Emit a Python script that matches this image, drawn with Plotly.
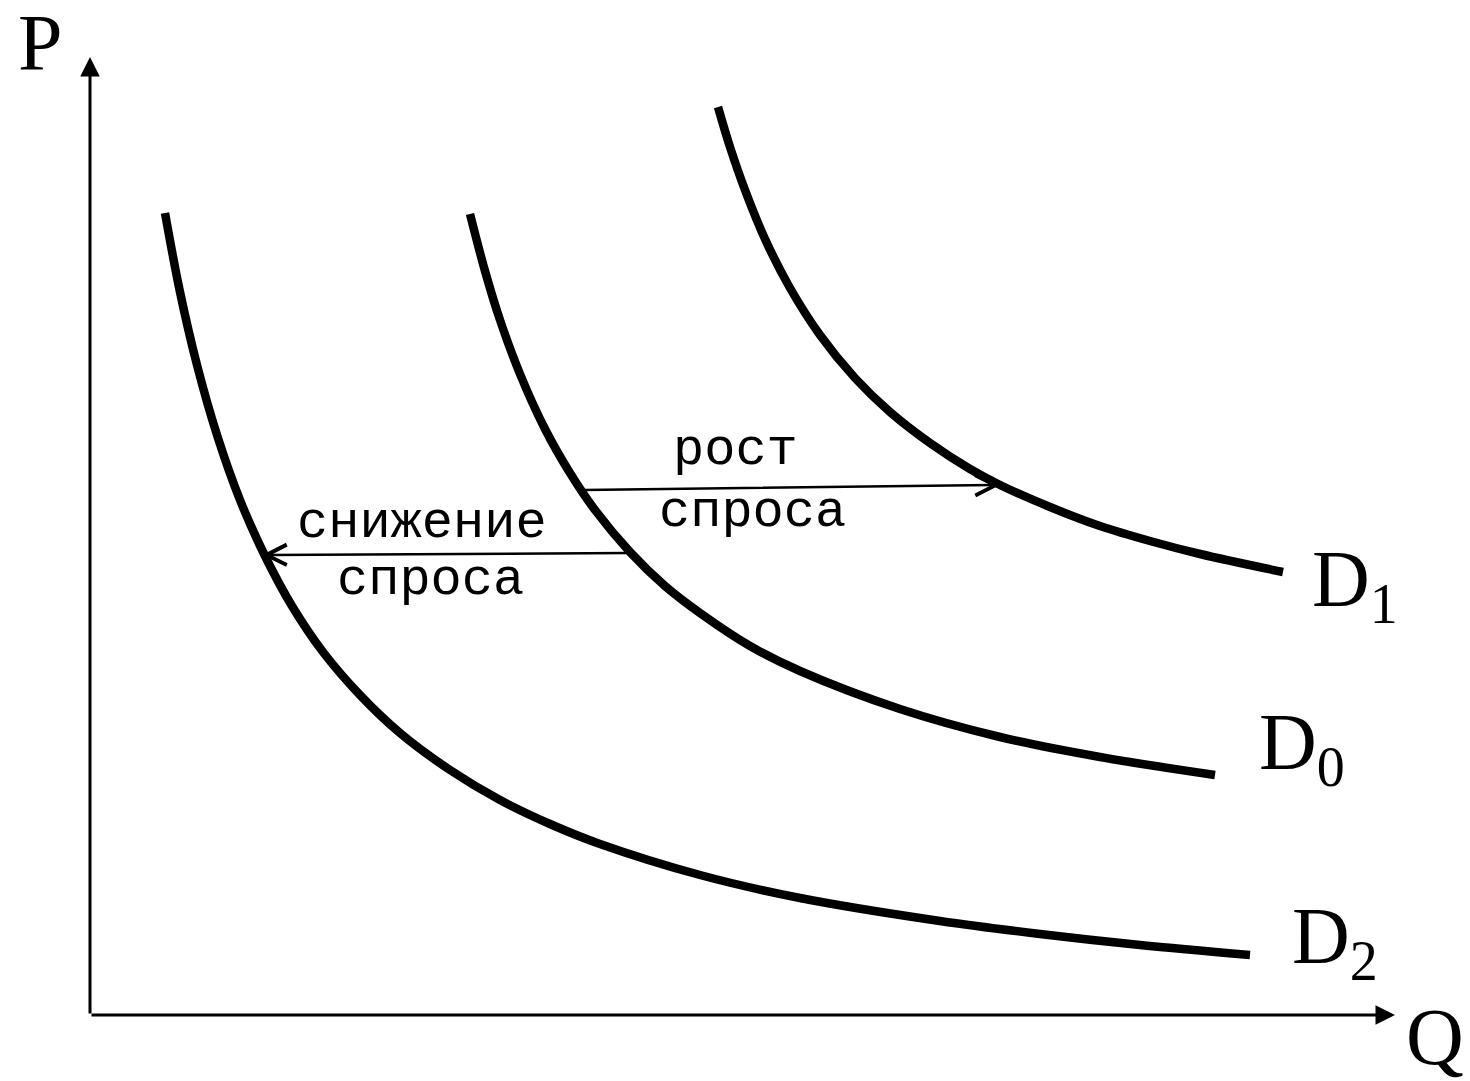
import plotly.graph_objects as go

# Demand curves (Q, P)
d1_q = [6.28, 6.40, 6.55, 6.75, 7.00, 7.30, 7.65, 8.00, 8.40, 8.80, 9.10, 9.60, 10.10, 10.60, 11.10, 11.93]
d1_p = [9.08, 8.68, 8.25, 7.76, 7.27, 6.80, 6.37, 6.03, 5.72, 5.46, 5.30, 5.08, 4.89, 4.74, 4.61, 4.43]

d0_q = [3.80, 3.95, 4.10, 4.30, 4.55, 4.80, 5.05, 5.40, 5.75, 6.10, 6.60, 7.10, 8.10, 9.10, 10.10, 11.25]
d0_p = [8.01, 7.44, 6.95, 6.41, 5.86, 5.42, 5.05, 4.63, 4.29, 4.02, 3.69, 3.44, 3.06, 2.78, 2.58, 2.40]

d2_q = [0.75, 0.90, 1.07, 1.27, 1.50, 1.75, 2.02, 2.33, 2.70, 3.10, 3.60, 4.10, 4.60, 5.10,
        6.10, 7.10, 8.50, 9.50, 10.50, 11.60]
d2_p = [8.02, 7.23, 6.50, 5.80, 5.15, 4.59, 4.09, 3.63, 3.20, 2.82, 2.45, 2.15, 1.91, 1.71,
        1.40, 1.17, 0.94, 0.81, 0.70, 0.60]

# Shift arrows (start Q, start P, end Q, end P)
rise_arrow = [4.93, 5.25, 9.10, 5.30]
fall_arrow = [5.40, 4.62, 1.72, 4.60]

# Axis extents
q_max = 13.05
p_max = 9.58

curve_names = ["D<sub>1</sub>", "D<sub>0</sub>", "D<sub>2</sub>"]

fig = go.Figure()
for q, p in [(d1_q, d1_p), (d0_q, d0_p), (d2_q, d2_p)]:
    fig.add_trace(go.Scatter(x=q, y=p, mode="lines",
                             line=dict(color="black", width=8.5, shape="spline", smoothing=1.0),
                             hoverinfo="skip", showlegend=False))

ann = []
# axes with arrows
ann.append(dict(x=0, y=p_max, ax=0, ay=0, xref="x", yref="y", axref="x", ayref="y",
                showarrow=True, arrowhead=2, arrowsize=1.3, arrowwidth=3, arrowcolor="black", text=""))
ann.append(dict(x=q_max, y=0, ax=0, ay=0, xref="x", yref="y", axref="x", ayref="y",
                showarrow=True, arrowhead=2, arrowsize=1.3, arrowwidth=3, arrowcolor="black", text=""))
# shift arrows
for a in (rise_arrow, fall_arrow):
    ann.append(dict(x=a[2], y=a[3], ax=a[0], ay=a[1], xref="x", yref="y", axref="x", ayref="y",
                    showarrow=True, arrowhead=5, arrowsize=1.6, arrowwidth=2.5, arrowcolor="black", text=""))

serif = dict(family="Liberation Serif", size=80, color="black")
mono = dict(family="Liberation Mono", size=52, color="black")
ann.append(dict(x=-0.5, y=9.72, xref="x", yref="y", text="P", showarrow=False, font=serif))
ann.append(dict(x=13.45, y=-0.22, xref="x", yref="y", text="Q", showarrow=False, font=serif))
for (x, y), t in zip([(12.65, 4.3), (12.12, 2.67), (12.45, 0.73)], curve_names):
    ann.append(dict(x=x, y=y, xref="x", yref="y", text=t, showarrow=False, font=serif))
ann.append(dict(x=6.45, y=5.65, xref="x", yref="y", text="рост", showarrow=False, font=mono))
ann.append(dict(x=6.62, y=5.03, xref="x", yref="y", text="спроса", showarrow=False, font=mono))
ann.append(dict(x=3.32, y=4.92, xref="x", yref="y", text="снижение", showarrow=False, font=mono))
ann.append(dict(x=3.40, y=4.35, xref="x", yref="y", text="спроса", showarrow=False, font=mono))

fig.update_layout(
    width=1470, height=1081,
    margin=dict(l=0, r=0, t=0, b=0),
    paper_bgcolor="white", plot_bgcolor="white",
    xaxis=dict(range=[-0.9, 13.8], visible=False, fixedrange=True),
    yaxis=dict(range=[-0.66, 10.15], visible=False, fixedrange=True),
    annotations=ann,
    showlegend=False,
)
fig.write_html("out.html", config={"displayModeBar": False},
               post_script="document.body.style.margin='0';")
